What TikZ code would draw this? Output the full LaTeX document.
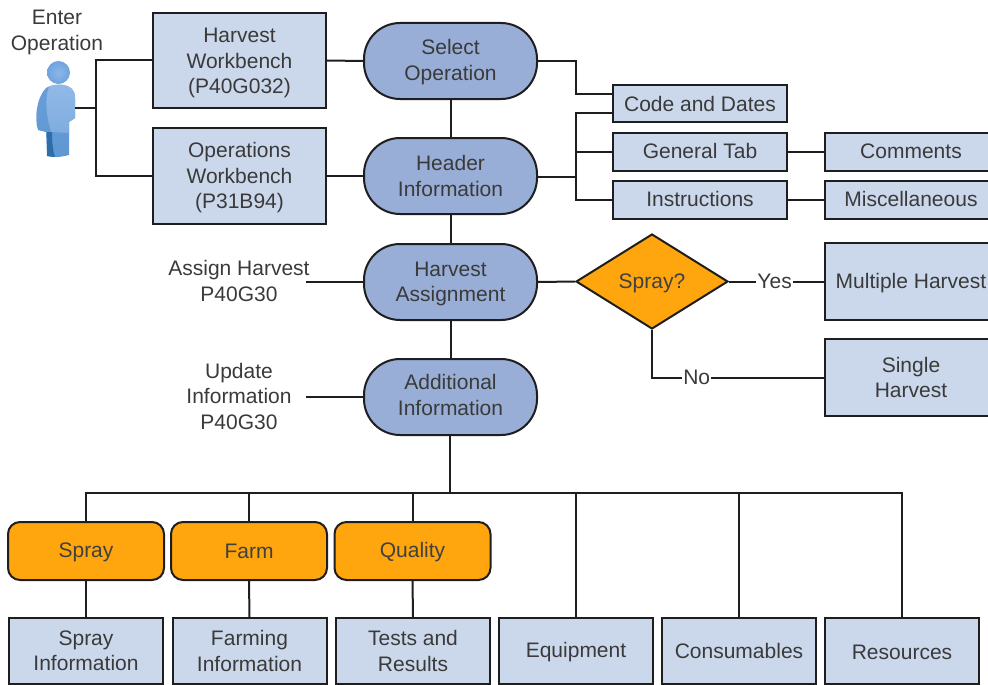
\documentclass[tikz,border=0pt]{standalone}
\usepackage{fontspec}
\setmainfont{Liberation Sans}
\usetikzlibrary{shapes.geometric}
\definecolor{boxblue}{HTML}{CBD8EC}
\definecolor{pillblue}{HTML}{98AED6}
\definecolor{amber}{HTML}{FFA50D}
\definecolor{ink}{HTML}{1E1E1E}
\definecolor{txt}{HTML}{3A3A3A}
\definecolor{pfront}{HTML}{92BAE8}
\definecolor{pfrontb}{HTML}{7FACDF}
\definecolor{pside}{HTML}{6A9FD9}
\definecolor{pleg}{HTML}{5E97D2}
\definecolor{plegd}{HTML}{2F6CA8}
\definecolor{phead}{HTML}{6FA3DE}
\definecolor{pheadl}{HTML}{8DB6E8}
\newcommand{\dnr}[1]{\rule{0pt}{#1pt}}
\newcommand{\upr}[1]{\rule[-#1pt]{0pt}{#1pt}}
\tikzset{
  every node/.style={font=\fontsize{21}{25.5}\selectfont,text=txt,align=center,inner sep=0pt},
  bx/.style={draw=ink,line width=2pt,fill=boxblue,rectangle,minimum width=#1},
  bx/.default=173,
  pill/.style={draw=ink,line width=2pt,fill=pillblue,rectangle,rounded corners=36pt,minimum width=173,minimum height=76},
  orng/.style={draw=ink,line width=2pt,fill=amber,rectangle,rounded corners=12pt,minimum width=156,minimum height=58,text=black!75},
  lnk/.style={draw=ink,line width=2pt},
  lbl/.style={fill=white,inner xsep=1pt,inner ysep=0pt}
}
\begin{document}
\begin{tikzpicture}[x=1pt,y=-1pt]
\useasboundingbox (0,0) rectangle (988,685);
\clip (0,0) rectangle (988,685);
\node (enter) at (57,32.5) {Enter\\Operation};
\node[bx,minimum height=95] (hw) at (239.5,60.5) {\dnr{20}Harvest\\Workbench\\(P40G032)};
\node[bx,minimum height=96] (ow) at (239.5,176) {\dnr{19}Operations\\Workbench\\(P31B94)};
\node[pill] (sel) at (450.5,61) {\dnr{17}Select\\Operation};
\node[pill] (hdr) at (450.5,176) {Header\\Information};
\node[pill] (has) at (450.5,282) {\dnr{18}Harvest\\Assignment};
\node[pill] (add) at (450.5,397) {Additional\\Information\upr{4}};
\node[bx=174,minimum height=37] (code) at (700,103.5) {Code and Dates};
\node[bx=174,minimum height=38] (gen) at (700,152) {General Tab\upr{2}};
\node[bx=174,minimum height=38] (ins) at (700,200) {Instructions\upr{2}};
\node[bx=172,minimum height=38] (com) at (911,152) {Comments\upr{2}};
\node[bx=172,minimum height=38] (mis) at (911,200) {Miscellaneous\upr{2}};
\node[diamond,draw=ink,line width=2pt,fill=amber,minimum width=152,minimum height=95,text=black!75] (spq) at (652,281.5) {\dnr{19}Spray?};
\node[bx=172,minimum height=77] (mul) at (911,281.5) {\dnr{19}Multiple Harvest};
\node[bx=172,minimum height=77] (sgl) at (911,377.5) {Single\\Harvest};
\node (asg) at (239,281) {Assign Harvest\\P40G30};
\node (upd) at (239,396) {Update\\Information\\P40G30};
\node[orng] (osp) at (86,551) {\dnr{17}Spray};
\node[orng] (ofa) at (249,551) {Farm};
\node[orng] (oqu) at (412.5,551) {\dnr{17}Quality};
\node[bx=154,minimum height=66] (bsp) at (86,651) {Spray\\Information};
\node[bx=154,minimum height=66] (bfa) at (249.5,651) {Farming\\Information};
\node[bx=154,minimum height=66] (bte) at (413,651) {Tests and\\Results};
\node[bx=154,minimum height=66] (beq) at (576,651) {\dnr{17}Equipment};
\node[bx=154,minimum height=66] (bco) at (739,651) {Consumables};
\node[bx=154,minimum height=66] (bre) at (902,651) {\dnr{17}Resources};
% person
\shade[top color=pside,bottom color=pleg]
  (46,88) .. controls (52,84) and (66,83) .. (72,89) .. controls (74,91) and (75,94) .. (75,98)
  -- (75,118) -- (69,122) -- (69,155) .. controls (62,157) and (54,158) .. (47,156)
  -- (46,132) -- (38,130) .. controls (34,118) and (37,97) .. (46,88) -- cycle;
\shade[top color=pfront,bottom color=pfrontb]
  (49,87) .. controls (56,83) and (67,84) .. (72,89) .. controls (74,91) and (75,94) .. (75,98)
  -- (75,118) -- (69,122) -- (69,133) -- (51,132) .. controls (47,118) and (44,100) .. (49,87) -- cycle;
\fill[plegd] (47,132) -- (52,132) .. controls (52,143) and (53,151) .. (55,157) -- (47,156) -- cycle;
\shade[inner color=pheadl,outer color=phead] (58.5,72.5) circle (11.5);
\coordinate (person) at (75,108);
\coordinate (j1) at (96,108);
\coordinate (j2) at (576,177);
\coordinate (asgend) at (306,282);
\coordinate (updend) at (306,397);
\coordinate (bus) at (450,493);
\draw[lnk] (person) -- (j1);
\draw[lnk] (hw.west) -| (j1) |- (ow.west);
\draw[lnk] (hw.east) -- (sel.west);
\draw[lnk] (ow.east) -- (hdr.west);
\draw[lnk] (sel) -- (hdr);
\draw[lnk] (hdr) -- (has);
\draw[lnk] (has) -- (add);
\draw[lnk] (sel.east) -| (576,94) -- (613,94);
\draw[lnk] (hdr.east |- j2) -- (j2);
\draw[lnk] (613,113) -| (j2) |- (ins.west);
\draw[lnk] (j2 |- gen.west) -- (gen.west);
\draw[lnk] (gen.east) -- (com.west);
\draw[lnk] (ins.east) -- (mis.west);
\draw[lnk] (asgend) -- (has.west);
\draw[lnk] (updend) -- (add.west);
\draw[lnk] (has.east) -- (spq.west);
\draw[lnk] (spq.east) -- node[lbl,pos=.48]{Yes} (mul.west);
\draw[lnk] (spq.south) |- node[lbl,pos=.63]{No} (sgl.west);
\draw[lnk] (add.south -| bus) -- (bus);
\draw[lnk] (osp.north) |- (bus) -| (bre.north);
\draw[lnk] (ofa.north) -- (ofa.north |- bus);
\draw[lnk] (oqu.north) -- (oqu.north |- bus);
\draw[lnk] (beq.north) -- (beq.north |- bus);
\draw[lnk] (bco.north) -- (bco.north |- bus);
\draw[lnk] (osp.south) -- (bsp.north);
\draw[lnk] (ofa.south) -- (bfa.north);
\draw[lnk] (oqu.south) -- (bte.north);
\end{tikzpicture}
\end{document}
